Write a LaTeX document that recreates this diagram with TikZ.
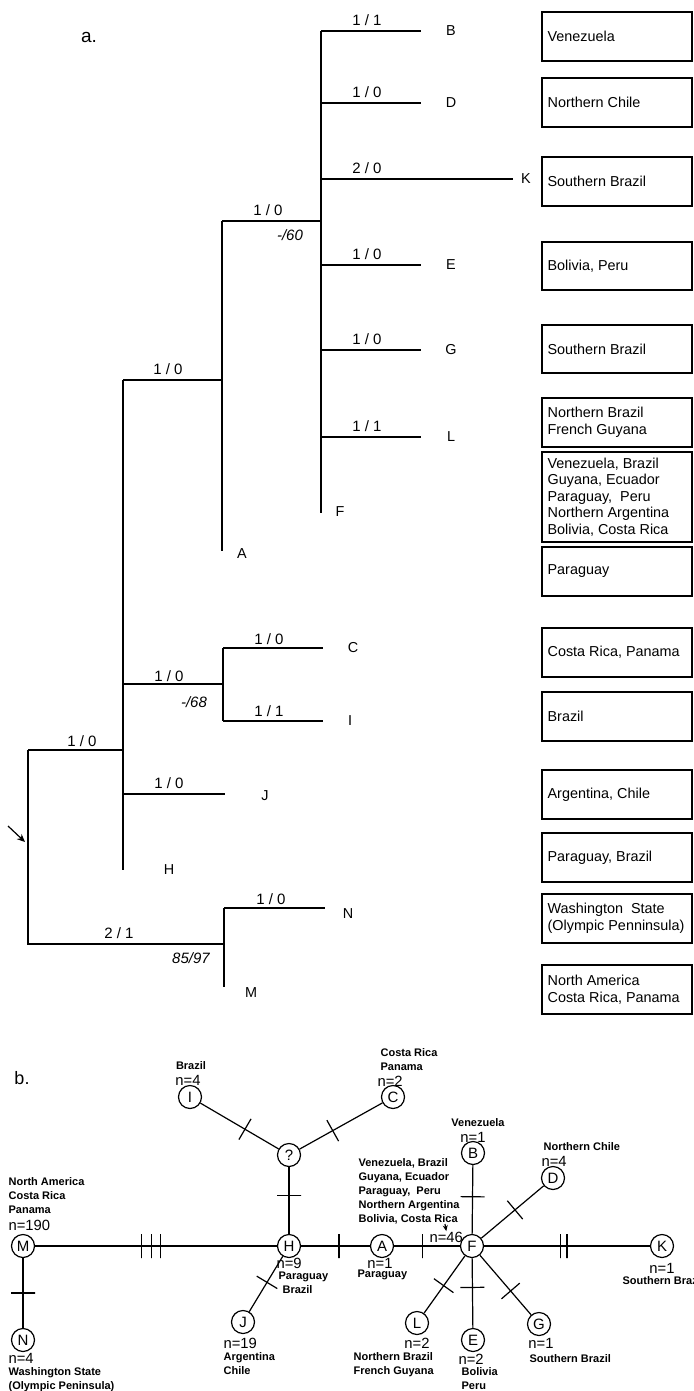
\documentclass[tikz,border=0pt]{standalone}
\usepackage{fontspec}
\setmainfont{Liberation Sans}
\usetikzlibrary{arrows.meta}

\tikzset{
  br/.style={font=\fontsize{7.5}{8}\selectfont},
  bs/.style={font=\fontsize{7.5}{8}\selectfont\itshape},
  leaf/.style={font=\fontsize{7.2}{8}\selectfont},
  region/.style={anchor=west,align=left,inner sep=1pt,font=\fontsize{7.2}{8.3}\selectfont},
  hap/.style={draw,circle,fill=white,minimum size=11.5pt,inner sep=0pt,font=\fontsize{7.5}{8}\selectfont},
  mut/.style={draw,sloped,inner sep=0pt,minimum width=0pt,minimum height=12pt,pos=#1},
  loc/.style={align=left,inner sep=0pt,font=\fontsize{5.5}{7}\selectfont\bfseries},
  cnt/.style={inner sep=0pt,font=\fontsize{7.4}{8}\selectfont},
}

\begin{document}
\begin{tikzpicture}[x=0.5pt,y=-0.5pt,line width=0.6pt]
 \useasboundingbox (0,0) rectangle (694,1391);
 \node[font=\fontsize{9.5}{10}\selectfont] (la) at (89,37) {a.};
 \draw (321,31)--(321,513);
 \foreach \y/\lab/\m/\n in {31/B/1/1,103/D/1/0,265/E/1/0,350/G/1/0,437/L/1/1} {
   \draw (321,\y)--(421,\y);
   \node[br] at (367,\y-11) {\m\ /\ \n};
   \node[leaf] (t\lab) at (451,\y) {\lab};
 }
 \draw (321,179)--(513,179);
 \node[br] at (367,168) {2\ /\ 0};
 \node[leaf] (tK) at (526,179) {K};
 \node[leaf] (tF) at (340,512) {F};
 \draw (222,221)--(321,221);
 \node[br] at (268,210) {1\ /\ 0};
 \node[bs] at (290,235) {-/60};
 \draw (222,221)--(222,551);
 \node[leaf] (tA) at (242,554) {A};
 \draw (123,380)--(222,380);
 \node[br] at (168,369) {1\ /\ 0};
 \draw (123,380)--(123,870);
 \node[leaf] (tH) at (169,870) {H};
 \draw (123,684)--(223,684);
 \node[br] at (169,676) {1\ /\ 0};
 \node[bs] at (194,702) {-/68};
 \draw (223,648)--(223,721);
 \draw (223,648)--(323,648);
 \node[br] at (269,639) {1\ /\ 0};
 \node[leaf] (tC) at (353,648) {C};
 \draw (223,721)--(323,721);
 \node[br] at (269,711) {1\ /\ 1};
 \node[leaf] (tI) at (350,721) {I};
 \draw (123,794)--(225,794);
 \node[br] at (169,783) {1\ /\ 0};
 \node[leaf] (tJ) at (265,796) {J};
 \draw (28,750)--(123,750);
 \node[br] at (82,741) {1\ /\ 0};
 \draw (28,750)--(28,944)--(224,944);
 \node[br] at (119,933) {2\ /\ 1};
 \node[bs] at (191,958) {85/97};
 \draw (224,908)--(224,987);
 \draw (224,908)--(325,908);
 \node[br] at (271,899) {1\ /\ 0};
 \node[leaf] (tN) at (348,914) {N};
 \node[leaf] (tM) at (251,993) {M};
 \coordinate (root) at (25,842);
 \draw[-{Stealth[length=4pt,width=3.5pt]}] (8,826)--(root);
 \foreach \t/\b/\txt in {12/61/Venezuela,78/127/Northern Chile,157/206/Southern Brazil,
   242/290/{Bolivia, Peru},325/373/Southern Brazil,398/447/Northern Brazil\\French Guyana,
   452/542/{Venezuela, Brazil\\Guyana, Ecuador\\Paraguay,\ \ Peru\\Northern Argentina\\Bolivia, Costa Rica},
   547/596/Paraguay,628/677/{Costa Rica, Panama},692/741/Brazil,770/819/{Argentina, Chile},
   833/882/{Paraguay, Brazil},894/943/{Washington\ \ State\\(Olympic Penninsula)},
   965/1014/{North\ America\\Costa Rica, Panama}} {
   \draw (542,\t) rectangle (692,\b);
   \node[region] at (545,{(\t+\b)/2}) {\txt};
 }

 \node[font=\fontsize{9}{10}\selectfont] (lb) at (22,1078) {b.};
 \node[hap] (I) at (190,1097) {I};
 \node[hap] (Q) at (289,1155) {?};
 \node[hap] (C) at (393,1097) {C};
 \node[hap] (H) at (289,1246) {H};
 \node[hap] (M) at (23,1246) {M};
 \node[hap] (N) at (23,1340) {N};
 \node[hap] (J) at (243,1322) {J};
 \node[hap] (A) at (382,1246) {A};
 \node[hap] (F) at (472,1246) {F};
 \node[hap] (B) at (473,1153) {B};
 \node[hap] (D) at (553,1178) {D};
 \node[hap] (K) at (662,1246) {K};
 \node[hap] (G) at (539,1324) {G};
 \node[hap] (E) at (473,1340) {E};
 \node[hap] (L) at (417,1323) {L};
 \draw (I)--(Q) node[mut=.57] {};
 \draw (C)--(Q) node[mut=.6] {};
 \draw (Q)--(H) node[mut=.42] {};
 \draw (M)--(H) node[mut=.44] {} node[mut=.48] {} node[mut=.52] {};
 \draw (M)--(N) node[mut=.5] {};
 \draw (H)--(J) node[mut=.47] {};
 \draw (H)--(A) node[mut=.55] {};
 \draw (A)--(F) node[mut=.43] {};
 \draw (F)--(B) node[mut=.54] {};
 \draw (F)--(D) node[mut=.54] {};
 \draw (F)--(K) node[mut=.46] {} node[mut=.5] {};
 \draw (F)--(G) node[mut=.6] {};
 \draw (F)--(E) node[mut=.42] {};
 \draw (F)--(L) node[mut=.52] {};
 \node[loc] (lI) at (191,1066) {Brazil};
 \node[cnt] (nI) at (188,1080) {n=4};
 \node[loc,anchor=west] (lC) at (380,1060) {Costa Rica\\Panama};
 \node[cnt,anchor=west] (nC) at (377,1081) {n=2};
 \node[loc,anchor=west] (lM) at (8,1196) {North America\\Costa Rica\\Panama};
 \node[cnt,anchor=west] (nM) at (8,1225) {n=190};
 \node[cnt,anchor=west] (nN) at (8,1358) {n=4};
 \node[loc,anchor=north west] (lN) at (8,1367) {Washington State\\(Olympic Peninsula)};
 \node[cnt,anchor=west] (nJ) at (223,1343) {n=19};
 \node[loc,anchor=north west] (lJ) at (223,1352) {Argentina\\Chile};
 \node[cnt,anchor=west] (nH) at (276,1263) {n=9};
 \node[loc,anchor=north west] (lH) at (278,1271) {Paraguay\\\hspace*{2pt}Brazil};
 \node[cnt] (nA) at (380,1263) {n=1};
 \node[loc,anchor=west] (lA) at (357,1275) {Paraguay};
 \node[loc,anchor=west] (lF) at (358,1191) {Venezuela, Brazil\\Guyana, Ecuador\\Paraguay,\ \ Peru\\Northern Argentina\\Bolivia, Costa Rica};
 \node[cnt,anchor=west] (nF) at (429,1237) {n=46};
 \draw[-{Stealth[length=3pt,width=2.5pt]}] (445,1224)--(nF.north);
 \node[loc] (lB) at (478,1123) {Venezuela};
 \node[cnt] (nB) at (473,1137) {n=1};
 \node[loc,anchor=west] (lD) at (543,1147) {Northern Chile};
 \node[cnt,anchor=west] (nD) at (541,1161) {n=4};
 \node[cnt] (nK) at (662,1268) {n=1};
 \node[loc,anchor=west] (lK) at (622,1281) {Southern Brazil};
 \node[cnt] (nG) at (541,1343) {n=1};
 \node[loc,anchor=west] (lG) at (529,1359) {Southern Brazil};
 \node[cnt,anchor=west] (nE) at (458,1359) {n=2};
 \node[loc,anchor=north west] (lE) at (461,1367) {Bolivia\\Peru};
 \node[cnt] (nL) at (417,1343) {n=2};
 \node[loc,anchor=north west] (lL) at (353,1352) {Northern Brazil\\French Guyana};
\end{tikzpicture}
\end{document}
